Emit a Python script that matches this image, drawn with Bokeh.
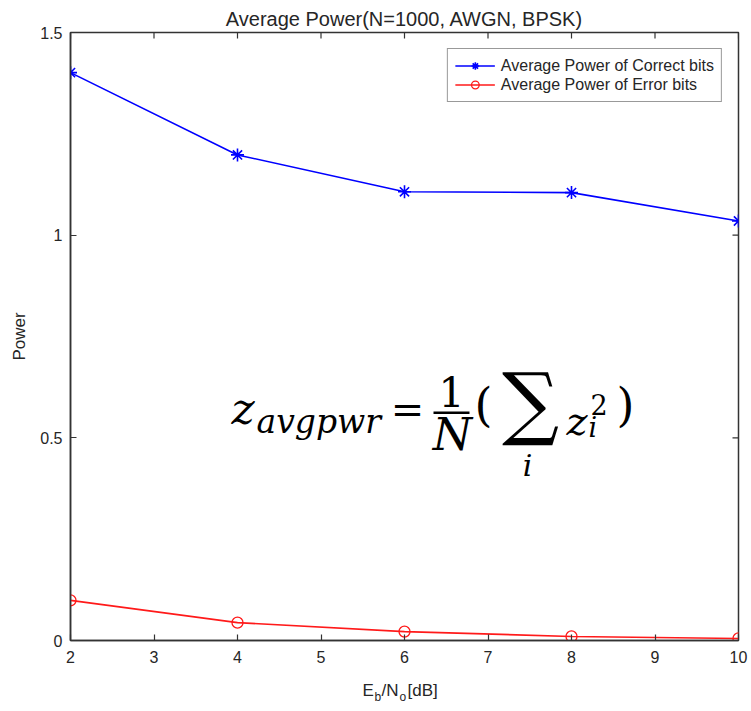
import math
from bokeh.plotting import figure
from bokeh.layouts import column
from bokeh.models import (Range1d, FixedTicker, Label, Legend, LegendItem,
                          BoxAnnotation, NumeralTickFormatter)
from bokeh.embed import file_html
from bokeh.resources import INLINE

# ---- data ----
ebno_db = [2, 4, 6, 8, 10]
power_correct = [1.401, 1.198, 1.107, 1.105, 1.035]
power_error = [0.099, 0.044, 0.022, 0.010, 0.005]
x_ticks = [2, 3, 4, 5, 6, 7, 8, 9, 10]
y_ticks = [0, 0.5, 1, 1.5]
title_text = "Average Power(N=1000, AWGN, BPSK)"
y_label = "Power"
legend_labels = ["Average Power of Correct bits", "Average Power of Error bits"]

# ---- layout constants (pixels) ----
W, H = 751, 711
H_MAIN = 675
FL, FR, FT, FB = 70, 738, 32, 640
X0, X1, Y0, Y1 = 2, 10, 0, 1.5
AX = "#333333"
TXT = "#262626"
SANS = "Liberation Sans"
SERIF = "DejaVu Serif"


def X(px):
    return X0 + (px - FL) * (X1 - X0) / (FR - FL)


def Y(py):
    return Y0 + (FB - py) * (Y1 - Y0) / (FB - FT)


p = figure(width=W, height=H_MAIN, x_range=Range1d(X0, X1), y_range=Range1d(Y0, Y1),
           output_backend="svg", toolbar_location=None, title=title_text,
           min_border_left=FL, min_border_right=W - FR, min_border_top=FT,
           min_border_bottom=H_MAIN - FB)
p.grid.visible = False
p.outline_line_color = AX
p.outline_line_width = 1.5
p.background_fill_color = "white"
p.border_fill_color = "white"

p.title.align = "center"
p.title.text_font = SANS
p.title.text_font_size = "20px"
p.title.text_font_style = "normal"
p.title.text_color = TXT
p.title.standoff = 5

for ax in (p.xaxis[0], p.yaxis[0]):
    ax.axis_line_color = AX
    ax.axis_line_width = 1.5
    ax.major_tick_line_color = AX
    ax.major_tick_line_width = 1.2
    ax.major_tick_in = 6
    ax.major_tick_out = 0
    ax.minor_tick_line_color = None
    ax.major_label_text_font = SANS
    ax.major_label_text_font_size = "16px"
    ax.major_label_text_color = TXT

p.xaxis.ticker = FixedTicker(ticks=x_ticks, minor_ticks=[])
p.yaxis.ticker = FixedTicker(ticks=y_ticks, minor_ticks=[])
p.yaxis.formatter = NumeralTickFormatter(format="0.[0]")
p.xaxis.major_label_standoff = 10
p.yaxis.major_label_standoff = 8
p.yaxis.axis_label = y_label
p.yaxis.axis_label_text_font = SANS
p.yaxis.axis_label_text_font_size = "17px"
p.yaxis.axis_label_text_font_style = "normal"
p.yaxis.axis_label_text_color = TXT
p.yaxis.axis_label_standoff = 8

# inward ticks on the top and right edges (MATLAB box)
dy = 6 * (Y1 - Y0) / (FB - FT)
dx = 6 * (X1 - X0) / (FR - FL)
p.segment(x0=x_ticks, y0=[Y1] * len(x_ticks), x1=x_ticks, y1=[Y1 - dy] * len(x_ticks),
          line_color=AX, line_width=1.2)
p.segment(x0=[X1] * len(y_ticks), y0=y_ticks, x1=[X1 - dx] * len(y_ticks), y1=y_ticks,
          line_color=AX, line_width=1.2)

# ---- data series ----
l1 = p.line(ebno_db, power_correct, line_color="#0000ff", line_width=1.6)
s1 = p.scatter(ebno_db, power_correct, marker="asterisk", size=13,
               line_color="#0000ff", line_width=1.6)
l2 = p.line(ebno_db, power_error, line_color="#ff1a1a", line_width=1.6)
s2 = p.scatter(ebno_db, power_error, marker="circle", size=11,
               line_color="#ff1a1a", fill_color=None, line_width=1.3)

legend = Legend(items=[LegendItem(label=legend_labels[0], renderers=[l1, s1]),
                       LegendItem(label=legend_labels[1], renderers=[l2, s2])],
                location="top_right", margin=16, padding=7, spacing=0,
                glyph_width=40, glyph_height=19, label_height=19, label_standoff=6,
                label_text_font=SANS, label_text_font_size="16px",
                label_text_color=TXT, border_line_color=AX, border_line_width=1.5,
                background_fill_color="white")
p.add_layout(legend)


def txt(fig, ymap, t, px, py, size, font=SANS, style="normal", align="left",
        color=TXT):
    fig.add_layout(Label(x=X(px), y=ymap(py), text=t, text_font=font,
                         text_font_size=f"{size}px", text_font_style=style,
                         text_align=align, text_baseline="alphabetic",
                         text_color=color))


# formula  z_avgpwr = 1/N ( sum_i z_i^2 )
BLK = "#000000"
txt(p, Y, "z", 231, 408, 44, font=SERIF, style="italic", color=BLK)
txt(p, Y, "avgpwr", 256, 421, 33, font=SERIF, style="italic", color=BLK)
txt(p, Y, "=", 407, 408, 40, font=SERIF, align="center", color=BLK)
txt(p, Y, "1", 451, 391, 41, font=SERIF, align="center", color=BLK)
p.add_layout(BoxAnnotation(left=X(433), right=X(469), bottom=Y(413.5), top=Y(411),
                           fill_color=BLK, fill_alpha=1, line_color=None))
txt(p, Y, "N", 452, 434, 45, font=SERIF, style="italic", align="center", color=BLK)
txt(p, Y, "(", 483, 404, 46, font=SERIF, align="center", color=BLK)
txt(p, Y, "\u2211", 530, 402, 80, font=SERIF, align="center", color=BLK)
txt(p, Y, "i", 527, 465, 30, font=SERIF, style="italic", align="center", color=BLK)
txt(p, Y, "z", 566, 420, 40, font=SERIF, style="italic", color=BLK)
txt(p, Y, "2", 590, 404, 27, font=SERIF, color=BLK)
txt(p, Y, "i", 588, 427, 27, font=SERIF, style="italic", color=BLK)
txt(p, Y, ")", 625, 404, 46, font=SERIF, align="center", color=BLK)

# ---- x axis label strip (E_b/N_o[dB]) ----
H_LAB = H - H_MAIN
p2 = figure(width=W, height=H_LAB, x_range=p.x_range, y_range=Range1d(0, H_LAB),
            output_backend="svg", toolbar_location=None, title=None,
            x_axis_location=None, y_axis_location=None,
            min_border_left=FL, min_border_right=W - FR, min_border_top=0,
            min_border_bottom=0)
p2.grid.visible = False
p2.outline_line_color = None
p2.background_fill_color = "white"
p2.border_fill_color = "white"


def Y2(py):
    return H - py


txt(p2, Y2, "E", 362, 690, 17)
txt(p2, Y2, "b", 374, 696, 12)
txt(p2, Y2, "/N", 381, 690, 17)
txt(p2, Y2, "o", 399, 696, 12)
txt(p2, Y2, "[dB]", 407, 690, 17)

layout = column(p, p2, spacing=0)
open("out.html", "w").write(file_html(layout, INLINE))
